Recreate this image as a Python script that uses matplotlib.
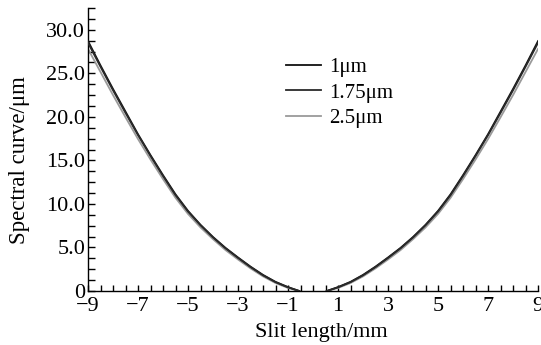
import numpy as np
import matplotlib
matplotlib.use('Agg')
import matplotlib.pyplot as plt
from matplotlib.ticker import MultipleLocator, FixedLocator

plt.rcParams['font.family'] = ['Liberation Serif', 'DejaVu Serif']

# Half-curve (|x| from slit centre), curves are symmetric about x = 0
x_half = [0.55, 1.0, 1.5, 2.0, 2.5, 3.0, 3.5, 4.0, 4.5, 5.0, 5.5, 6.0,
          6.5, 7.0, 7.5, 8.0, 8.5, 9.0]
y_1um = [0.0, 0.45, 1.05, 1.85, 2.8, 3.85, 4.95, 6.2, 7.6, 9.2, 11.1, 13.3,
         15.6, 18.0, 20.6, 23.2, 25.9, 28.7]
y_175um = [0.0, 0.42, 1.02, 1.8, 2.75, 3.8, 4.9, 6.15, 7.55, 9.12, 11.0, 13.2,
           15.5, 17.9, 20.45, 23.05, 25.75, 28.5]
y_25um = [0.0, 0.35, 0.92, 1.68, 2.6, 3.62, 4.7, 5.95, 7.3, 8.85, 10.7, 12.85,
          15.1, 17.45, 19.95, 22.5, 25.15, 27.8]

series_labels = ['1\u03bcm', '1.75\u03bcm', '2.5\u03bcm']
series_colors = ['#111111', '#2a2a2a', '#9a9a9a']

x_ticklabels = ['\u22129', '\u22127', '\u22125', '\u22123', '\u22121',
                '1', '3', '5', '7', '9']
y_ticklabels = ['0', '5.0', '10.0', '15.0', '20.0', '25.0', '30.0']

fig = plt.figure(figsize=(5.41, 3.45), dpi=100)
ax = fig.add_axes([0.1627, 0.1565, 0.8318, 0.8203])

xr = np.array(x_half)
for ys, lab, col in zip([y_1um, y_175um, y_25um], series_labels, series_colors):
    ys = np.array(ys)
    z = 2 if col == '#9a9a9a' else 3
    ax.plot(-xr[::-1], ys[::-1], color=col, lw=1.3, zorder=z)
    ax.plot(xr, ys, color=col, lw=1.3, label=lab, zorder=z)

ax.set_xlim(-9, 9)
ax.set_ylim(0, 32.5)

ax.spines['top'].set_visible(False)
ax.spines['right'].set_visible(False)
ax.spines['left'].set_linewidth(1.0)
ax.spines['bottom'].set_linewidth(1.0)

ax.xaxis.set_major_locator(FixedLocator(np.arange(-9, 10, 2)))
ax.set_xticklabels(x_ticklabels)
ax.xaxis.set_minor_locator(MultipleLocator(0.5))
ax.yaxis.set_major_locator(FixedLocator(np.arange(0, 31, 5)))
ax.set_yticklabels(y_ticklabels)
ax.yaxis.set_minor_locator(MultipleLocator(1.25))

ax.tick_params(axis='both', which='both', direction='in', width=1.0,
               labelsize=16, colors='black')
ax.tick_params(axis='x', which='major', length=4, pad=4)
ax.tick_params(axis='x', which='minor', length=4)
ax.tick_params(axis='y', which='major', length=5, pad=2)
ax.tick_params(axis='y', which='minor', length=5)

ax.set_xlabel('Slit length/mm', fontsize=16)
ax.xaxis.set_label_coords(0.518, -0.113)
ax.set_ylabel('Spectral curve/\u03bcm', fontsize=16.5)
ax.yaxis.set_label_coords(-0.13, 0.463)

ax.legend(loc='upper left', bbox_to_anchor=(0.439, 0.826), frameon=False,
          fontsize=15, handlelength=1.7, handletextpad=0.4,
          labelspacing=0.3, borderaxespad=0, borderpad=0)

fig.savefig('out.png', dpi=100)
